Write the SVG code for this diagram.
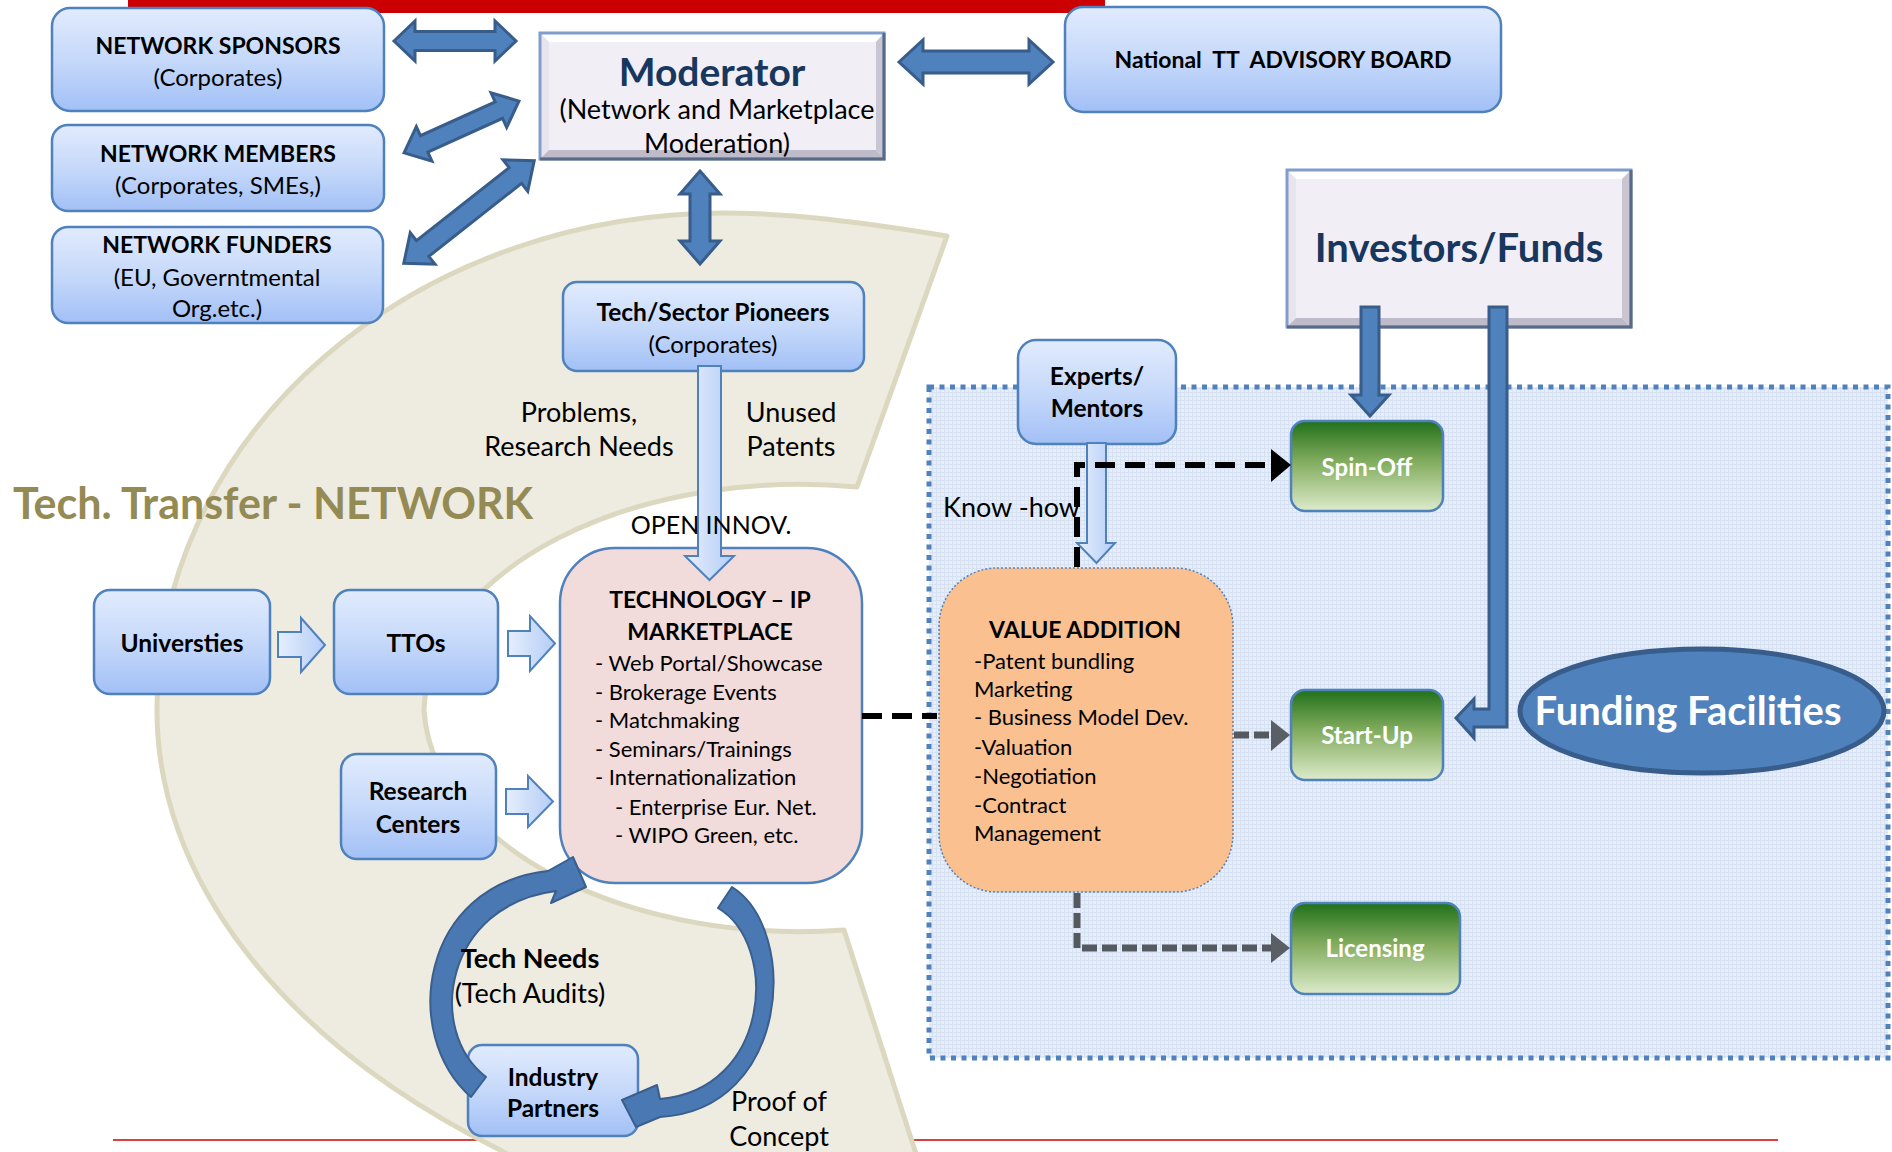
<svg xmlns="http://www.w3.org/2000/svg" width="1892" height="1152" viewBox="0 0 1892 1152">
  <defs>
    <linearGradient id="gBlue" x1="0" y1="0" x2="0" y2="1">
      <stop offset="0" stop-color="#E1EBFD"/>
      <stop offset="0.5" stop-color="#C6D9FA"/>
      <stop offset="1" stop-color="#A2C0F6"/>
    </linearGradient>
    <linearGradient id="gLight" x1="0" y1="0" x2="1" y2="0">
      <stop offset="0" stop-color="#E6EEFD"/>
      <stop offset="1" stop-color="#B4CDF6"/>
    </linearGradient>
    <linearGradient id="gGreen" x1="0" y1="0" x2="0" y2="1">
      <stop offset="0" stop-color="#21701A"/>
      <stop offset="0.45" stop-color="#82AC5E"/>
      <stop offset="1" stop-color="#DDEBCB"/>
    </linearGradient>
    <pattern id="grid" width="4" height="4" patternUnits="userSpaceOnUse">
      <rect width="4" height="4" fill="#E7EEF9"/>
      <path d="M0,0.5 H4 M0.5,0 V4" stroke="#D6E2F3" stroke-width="1"/>
    </pattern>
  </defs>
  <style>
    text { font-family: Lato, 'Liberation Sans', sans-serif; fill: #000; }
    .bx { fill: url(#gBlue); stroke: #4F81BD; stroke-width: 2.5; }
    .gr { fill: url(#gGreen); stroke: #4F81BD; stroke-width: 2.5; }
    .t { font-size: 24px; text-anchor: middle; }
    .tb { font-size: 23px; text-anchor: middle; font-weight: bold; }
    .tb2 { font-size: 24.5px; text-anchor: middle; font-weight: bold; }
    .b { font-weight: bold; }
    .lbl { font-size: 27px; text-anchor: middle; }
    .lst { font-size: 22px; }
    .wt { fill: #FFFFFF; font-weight: bold; font-size: 24px; text-anchor: middle; }
    .navy { fill: #17375E; font-weight: bold; text-anchor: middle; }
    .dbl { fill: #4F81BD; stroke: #385D8A; stroke-width: 3; stroke-linejoin: miter; }
    .blk { fill: #4A78B2; stroke: #3A5F8F; stroke-width: 2; stroke-linejoin: round; }
    .hol { fill: url(#gLight); stroke: #4F81BD; stroke-width: 2; }
    .dashB { fill: none; stroke: #000; stroke-width: 6; stroke-dasharray: 20 10; }
    .dashG { fill: none; stroke: #555A60; stroke-width: 7; stroke-dasharray: 15 5; }
  </style>

  <!-- page decorations -->
  <rect x="128" y="0" width="977" height="13" fill="#CC0000"/>
  <line x1="113" y1="1140" x2="1778" y2="1140" stroke="#CC0000" stroke-width="1.5"/>

  <!-- network band -->
  <path id="band" d="M947,236 C860,222 790,213 724,213 A567 495 0 0 0 157,708 A943 570 0 0 0 500,1150 L560,1185 L926,1185 L844,930 A376 230 0 0 1 424,710 A376 230 0 0 1 857,487 Z" fill="#EEEBE0" stroke="#DCD8C0" stroke-width="5" stroke-linejoin="round"/>

  <!-- commercialisation region -->
  <rect id="region" x="929" y="387" width="959" height="671" fill="url(#grid)" stroke="#4F81BD" stroke-width="5" stroke-dasharray="5 5.5"/>

  <text x="13" y="519" style="font-size:43px;font-weight:bold;fill:#948A54">Tech. Transfer - NETWORK</text>

  <!-- nodes -->
  <g id="sponsors">
    <rect class="bx" x="52" y="8" width="332" height="103" rx="18"/>
    <text class="tb" x="218" y="54">NETWORK SPONSORS</text>
    <text class="t" x="218" y="86">(Corporates)</text>
  </g>
  <g id="members">
    <rect class="bx" x="52" y="125" width="332" height="86" rx="16"/>
    <text class="tb" x="218" y="162">NETWORK MEMBERS</text>
    <text class="t" x="218" y="194">(Corporates, SMEs,)</text>
  </g>
  <g id="funders">
    <rect class="bx" x="52" y="227" width="331" height="96" rx="16"/>
    <text class="tb" x="217" y="253">NETWORK FUNDERS</text>
    <text class="t" x="217" y="286">(EU, Governtmental</text>
    <text class="t" x="217" y="317">Org.etc.)</text>
  </g>
  <g id="moderator">
    <rect x="540" y="33" width="344" height="126" fill="#F1EEF6"/>
    <polygon points="540,33 884,33 876,42 549,42" fill="#FFFFFF"/>
    <polygon points="540,33 549,42 549,150 540,159" fill="#E7E4EE"/>
    <polygon points="884,33 884,159 876,150 876,42" fill="#C8C6D3"/>
    <polygon points="540,159 884,159 876,150 549,150" fill="#BEBCCA"/>
    <rect x="540" y="33" width="344" height="126" fill="none" stroke="#809DCC" stroke-width="3"/>
    <path d="M884,33 V159 H540" fill="none" stroke="#5A6A86" stroke-width="3"/>
    <text class="navy" x="712" y="86" style="font-size:39px">Moderator</text>
    <text x="717" y="119" style="font-size:27px" text-anchor="middle">(Network and Marketplace</text>
    <text x="717" y="153" style="font-size:27px" text-anchor="middle">Moderation)</text>
  </g>
  <g id="advisory">
    <rect class="bx" x="1065" y="7" width="436" height="105" rx="18"/>
    <text class="b" x="1283" y="68" style="font-size:23px" text-anchor="middle" xml:space="preserve">National  TT  ADVISORY BOARD</text>
  </g>
  <g id="investors">
    <rect x="1287" y="170" width="344" height="157" fill="#F1EEF6"/>
    <polygon points="1287,170 1631,170 1622,179 1296,179" fill="#FFFFFF"/>
    <polygon points="1287,170 1296,179 1296,318 1287,327" fill="#E7E4EE"/>
    <polygon points="1631,170 1631,327 1622,318 1622,179" fill="#C8C6D3"/>
    <polygon points="1287,327 1631,327 1622,318 1296,318" fill="#BEBCCA"/>
    <rect x="1287" y="170" width="344" height="157" fill="none" stroke="#809DCC" stroke-width="3"/>
    <path d="M1631,170 V327 H1287" fill="none" stroke="#5A6A86" stroke-width="3"/>
    <text class="navy" x="1459" y="262" style="font-size:40px">Investors/Funds</text>
  </g>
  <g id="pioneers">
    <rect class="bx" x="563" y="282" width="301" height="89" rx="14"/>
    <text class="tb2" x="713" y="321">Tech/Sector Pioneers</text>
    <text class="t" x="713" y="353">(Corporates)</text>
  </g>
  <g id="universities">
    <rect class="bx" x="94" y="590" width="176" height="104" rx="16"/>
    <text class="tb2" x="182" y="652">Universties</text>
  </g>
  <g id="ttos">
    <rect class="bx" x="334" y="590" width="164" height="104" rx="16"/>
    <text class="tb2" x="416" y="652">TTOs</text>
  </g>
  <g id="research">
    <rect class="bx" x="341" y="754" width="155" height="105" rx="16"/>
    <text class="tb2" x="418" y="800">Research</text>
    <text class="tb2" x="418" y="833">Centers</text>
  </g>
  <g id="marketplace">
    <rect x="560" y="548" width="302" height="335" rx="55" fill="#F2DCDB" stroke="#4F81BD" stroke-width="2.5"/>
    <text class="b" x="710" y="608" style="font-size:23px" text-anchor="middle">TECHNOLOGY – IP</text>
    <text class="b" x="710" y="640" style="font-size:23px" text-anchor="middle">MARKETPLACE</text>
    <text class="lst" x="595" y="671">- Web Portal/Showcase</text>
    <text class="lst" x="595" y="700">- Brokerage Events</text>
    <text class="lst" x="595" y="728">- Matchmaking</text>
    <text class="lst" x="595" y="757">- Seminars/Trainings</text>
    <text class="lst" x="595" y="785">- Internationalization</text>
    <text class="lst" x="615" y="815">- Enterprise Eur. Net.</text>
    <text class="lst" x="615" y="843">- WIPO Green, etc.</text>
  </g>
  <g id="industry">
    <rect class="bx" x="468" y="1045" width="170" height="91" rx="14"/>
    <text class="tb2" x="553" y="1086">Industry</text>
    <text class="tb2" x="553" y="1117">Partners</text>
  </g>
  <g id="experts">
    <rect class="bx" x="1018" y="340" width="158" height="104" rx="18"/>
    <text class="tb2" x="1097" y="385">Experts/</text>
    <text class="tb2" x="1097" y="417">Mentors</text>
  </g>
  <g id="value">
    <rect x="939" y="568" width="294" height="324" rx="58" fill="#FAC090" stroke="#4F81BD" stroke-width="1.5" stroke-dasharray="2 2"/>
    <text class="b" x="1085" y="638" style="font-size:23px" text-anchor="middle">VALUE ADDITION</text>
    <text class="lst" x="974" y="669">-Patent bundling</text>
    <text class="lst" x="974" y="697">Marketing</text>
    <text class="lst" x="974" y="725">- Business Model Dev.</text>
    <text class="lst" x="974" y="755">-Valuation</text>
    <text class="lst" x="974" y="784">-Negotiation</text>
    <text class="lst" x="974" y="813">-Contract</text>
    <text class="lst" x="974" y="841">Management</text>
  </g>
  <g id="spinoff">
    <rect class="gr" x="1291" y="421" width="152" height="90" rx="14"/>
    <text class="wt" x="1367" y="476">Spin-Off</text>
  </g>
  <g id="startup">
    <rect class="gr" x="1291" y="690" width="152" height="90" rx="14"/>
    <text class="wt" x="1367" y="744">Start-Up</text>
  </g>
  <g id="licensing">
    <rect class="gr" x="1291" y="903" width="169" height="91" rx="14"/>
    <text class="wt" x="1375" y="957">Licensing</text>
  </g>
  <g id="funding">
    <ellipse cx="1702" cy="711" rx="182" ry="62" fill="#4F81BD" stroke="#385D8A" stroke-width="5"/>
    <text class="wt" x="1688" y="725" style="font-size:40px">Funding Facilities</text>
  </g>

  <!-- connectors -->
  <g id="connectors">
    <!-- double arrows around the moderator -->
    <path class="dbl" transform="translate(455,41)" d="M-61,0 L-40,-20 L-40,-9.5 L40,-9.5 L40,-20 L61,0 L40,20 L40,9.5 L-40,9.5 L-40,20 Z"/>
    <path class="dbl" transform="translate(976,62)" d="M-77,0 L-53,-22 L-53,-11 L53,-11 L53,-22 L77,0 L53,22 L53,11 L-53,11 L-53,22 Z"/>
    <path class="dbl" transform="translate(461.5,127) rotate(-24.3)" d="M-63,0 L-41,-19 L-41,-9 L41,-9 L41,-19 L63,0 L41,19 L41,9 L-41,9 L-41,19 Z"/>
    <path class="dbl" transform="translate(469,212) rotate(-38.2)" d="M-83,0 L-59,-20 L-59,-10 L59,-10 L59,-20 L83,0 L59,20 L59,10 L-59,10 L-59,20 Z"/>
    <path class="dbl" transform="translate(700,217.5) rotate(90)" d="M-46.5,0 L-23.5,-20 L-23.5,-10 L23.5,-10 L23.5,-20 L46.5,0 L23.5,20 L23.5,10 L-23.5,10 L-23.5,20 Z"/>

    <!-- investors to spin-off and start-up -->
    <path class="dbl" d="M1361,307 L1379,307 L1379,395 L1389,395 L1370,416 L1351,395 L1361,395 Z"/>
    <path class="dbl" d="M1489,307 L1507,307 L1507,727 L1474,727 L1474,738 L1456,718 L1474,699 L1474,709 L1489,709 Z"/>

    <!-- open innovation flow -->
    <path class="hol" d="M698,366 L721,366 L721,556 L734,556 L709.5,580 L685,556 L698,556 Z"/>
    <!-- know-how flow -->
    <path class="hol" d="M1087,443 L1106,443 L1106,543 L1115,543 L1096.5,563 L1077,543 L1087,543 Z"/>

    <!-- feeds into the marketplace -->
    <path class="hol" d="M278,632 L301,632 L301,618 L325,645 L301,672 L301,657 L278,657 Z"/>
    <path class="hol" d="M508,631 L530,631 L530,616 L555,643.5 L530,671 L530,656 L508,656 Z"/>
    <path class="hol" d="M506,789 L528,789 L528,776 L553,801.5 L528,827 L528,814 L506,814 Z"/>

    <!-- marketplace to value addition -->
    <path class="dashB" d="M862,716 H937"/>
    <!-- value addition to spin-off -->
    <path class="dashB" d="M1077,567 V465 H1272"/>
    <polygon points="1271,449 1291,465 1271,482" fill="#000"/>
    <!-- value addition to start-up and licensing -->
    <path class="dashG" d="M1234,735 H1272"/>
    <polygon points="1271,720 1290,735 1271,751" fill="#5A5F66"/>
    <path class="dashG" d="M1077,893 V948 H1272"/>
    <polygon points="1271,933 1290,948 1271,963" fill="#5A5F66"/>

    <!-- cycle between marketplace and industry partners -->
    <path class="blk" d="M471,1097 C400,1035 420,885 548,871 L573,857 L586,887 L551,903 L556,891 C445,905 425,1030 486,1077 Z"/>
    <path class="blk" d="M732,887 C800,930 790,1110 660,1117 L636,1127 L622,1100 L657,1085 L660,1099 C770,1090 780,945 718,908 Z"/>
  </g>

  <!-- flow labels -->
  <g id="labels">
    <text class="lbl" x="579" y="422">Problems,</text>
    <text class="lbl" x="579" y="456">Research Needs</text>
    <text class="lbl" x="791" y="422">Unused</text>
    <text class="lbl" x="791" y="456">Patents</text>
    <text class="lbl" x="711" y="534" style="font-size:25px">OPEN INNOV.</text>
    <text x="943" y="517" style="font-size:27px">Know -how</text>
    <text class="lbl b" x="530" y="968">Tech Needs</text>
    <text class="lbl" x="530" y="1003">(Tech Audits)</text>
    <text class="lbl" x="779" y="1111">Proof of</text>
    <text class="lbl" x="779" y="1146">Concept</text>
  </g>
</svg>
